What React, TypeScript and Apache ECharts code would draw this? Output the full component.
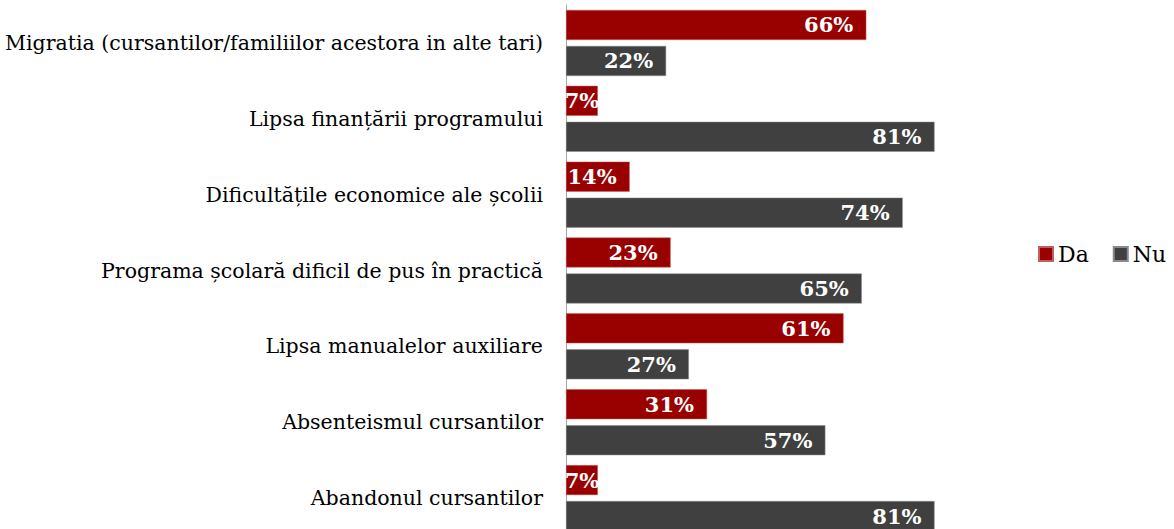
import React, { useEffect, useRef } from "react";
import * as echarts from "echarts";

const categories = [
  "Migratia (cursantilor/familiilor acestora in alte tari)",
  "Lipsa finanțării programului",
  "Dificultățile economice ale școlii",
  "Programa școlară dificil de pus în practică",
  "Lipsa manualelor auxiliare",
  "Absenteismul cursantilor",
  "Abandonul cursantilor",
];
const daValues = [66, 7, 14, 23, 61, 31, 7];
const nuValues = [22, 81, 74, 65, 27, 57, 81];

const FONT = "'DejaVu Serif', 'Liberation Serif', serif";

export default function App() {
  const ref = useRef<HTMLDivElement>(null);
  useEffect(() => {
    if (!ref.current) return;
    const chart = echarts.init(ref.current, undefined, { renderer: "svg" });
    const label = {
      show: true,
      position: "insideRight",
      distance: 13,
      color: "#ffffff",
      fontWeight: "bold",
      fontSize: 21,
      fontFamily: FONT,
      formatter: "{c}%",
    };
    const toData = (arr: number[]) =>
      arr.map((v) => (v < 10 ? { value: v, label: { position: "inside" } } : v));
    chart.setOption({
      animation: false,
      textStyle: { fontFamily: FONT },
      legend: {
        data: ["Da", "Nu"],
        left: 1033,
        top: 238,
        itemWidth: 14,
        itemHeight: 14,
        itemGap: 24,
        icon: "rect",
        textStyle: { fontSize: 22, color: "#000", fontFamily: FONT },
      },
      grid: {
        left: 566,
        top: 5,
        width: 455,
        height: 531,
        containLabel: false,
        outerBoundsMode: "none",
      },
      xAxis: {
        type: "value",
        min: 0,
        max: 100,
        show: false,
      },
      yAxis: {
        type: "category",
        data: categories,
        inverse: true,
        axisLine: { show: true, lineStyle: { color: "#a6a6a6", width: 1 } },
        axisTick: { show: false },
        axisLabel: { fontSize: 20.5, color: "#000", margin: 23, fontFamily: FONT },
      },
      series: [
        {
          name: "Da",
          type: "bar",
          data: toData(daValues),
          barWidth: 30,
          barGap: "20%",
          itemStyle: { color: "#990000", borderColor: "#c06060", borderWidth: 0.5 },
          label,
        },
        {
          name: "Nu",
          type: "bar",
          data: toData(nuValues),
          barWidth: 30,
          itemStyle: { color: "#404040", borderColor: "#8a8a8a", borderWidth: 0.5 },
          label,
        },
      ],
    });
    return () => chart.dispose();
  }, []);
  return (
    <div
      ref={ref}
      style={{ position: "absolute", left: 0, top: 0, width: 1174, height: 529 }}
    />
  );
}
